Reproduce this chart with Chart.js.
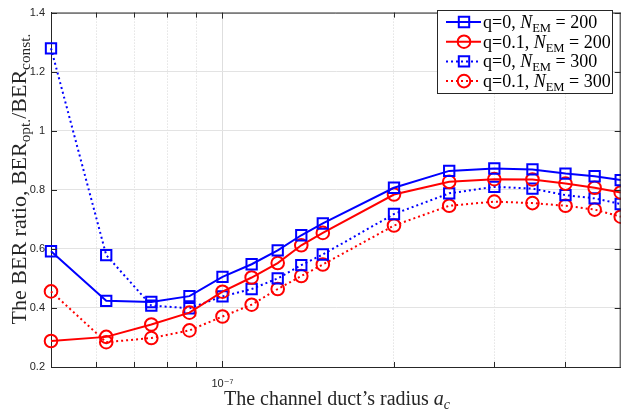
<!DOCTYPE html>
<html>
<head>
<meta charset="utf-8">
<script src="https://cdn.jsdelivr.net/npm/chart.js@4.4.0/dist/chart.umd.min.js"></script>
<style>
  html, body { margin: 0; padding: 0; background: #fff; overflow: hidden; }
  #wrap { width: 630px; height: 411px; }
</style>
</head>
<body>
<div id="wrap"><canvas id="berChart" width="630" height="411"></canvas></div>
<script>
// duct radius a_c (m)
const radius = [5e-8, 6.25e-8, 7.5e-8, 8.75e-8, 1e-7, 1.125e-7, 1.25e-7, 1.375e-7, 1.5e-7, 2e-7, 2.5e-7, 3e-7, 3.5e-7, 4e-7, 4.5e-7, 5e-7];
// BER ratio per curve
const q0_200  = [0.592, 0.424, 0.420, 0.440, 0.505, 0.548, 0.595, 0.646, 0.686, 0.807, 0.864, 0.872, 0.869, 0.855, 0.846, 0.833];
const q01_200 = [0.288, 0.302, 0.344, 0.384, 0.455, 0.503, 0.552, 0.612, 0.654, 0.784, 0.827, 0.836, 0.835, 0.821, 0.807, 0.791];
const q0_300  = [1.279, 0.579, 0.408, 0.399, 0.439, 0.464, 0.500, 0.545, 0.581, 0.718, 0.788, 0.810, 0.804, 0.782, 0.771, 0.752];
const q01_300 = [0.456, 0.284, 0.298, 0.324, 0.371, 0.411, 0.464, 0.508, 0.547, 0.679, 0.746, 0.760, 0.755, 0.746, 0.733, 0.709];
// axis ticks
const xTicks = [6e-8, 7e-8, 8e-8, 9e-8, 1e-7, 2e-7, 3e-7, 4e-7];
const yTicks = [0.2, 0.4, 0.6, 0.8, 1, 1.2, 1.4];
// legend entries: [plain, italic, subscript, tail]
const legendText = [
  ['q=0, ', 'N', 'EM', ' = 200'],
  ['q=0.1, ', 'N', 'EM', ' = 200'],
  ['q=0, ', 'N', 'EM', ' = 300'],
  ['q=0.1, ', 'N', 'EM', ' = 300']
];

const SERIF = '"Liberation Serif", "DejaVu Serif", serif';
const SANS = '"Liberation Sans", "DejaVu Sans", sans-serif';
const AX = '#262626';
const BLUE = '#0000ff';
const RED = '#ff0000';

const isMajor = v => Math.abs(v - 1e-7) < 1e-12;

function series(vals, color, style, dotted) {
  return {
    data: radius.map((r, i) => ({ x: r, y: vals[i] })),
    borderColor: color,
    backgroundColor: 'transparent',
    borderWidth: 2,
    borderDash: dotted ? [2, 3] : [],
    pointStyle: style,
    pointRadius: style === 'rect' ? 7.3 : 6.3,
    pointBorderWidth: 2,
    pointBorderColor: color,
    pointBackgroundColor: 'transparent',
    tension: 0,
    clip: false
  };
}

// text with italic / subscript pieces: [text, kind]  kind: r, i, s, si
function richWidth(ctx, parts, size) {
  let w = 0;
  parts.forEach(([t, k]) => {
    const fs = k[0] === 's' ? size * 0.7 : size;
    ctx.font = (k === 'i' || k === 'si' ? 'italic ' : '') + fs + 'px ' + SERIF;
    w += ctx.measureText(t).width;
  });
  return w;
}
function drawRich(ctx, parts, x, y, size) {
  let cx = x;
  parts.forEach(([t, k]) => {
    const fs = k[0] === 's' ? size * 0.7 : size;
    ctx.font = (k === 'i' || k === 'si' ? 'italic ' : '') + fs + 'px ' + SERIF;
    ctx.fillText(t, cx, k[0] === 's' ? y + size * 0.22 : y);
    cx += ctx.measureText(t).width;
  });
}

const decorations = {
  id: 'decorations',
  afterDraw(chart) {
    const { ctx, chartArea: a, scales } = chart;
    ctx.save();
    // box and inward ticks
    ctx.strokeStyle = AX;
    ctx.lineWidth = 1;
    ctx.beginPath();
    ctx.moveTo(a.left, a.top + 0.5);
    ctx.lineTo(a.right, a.top + 0.5);
    ctx.moveTo(a.right - 0.5, a.top);
    ctx.lineTo(a.right - 0.5, a.bottom);
    scales.x.ticks.forEach(t => {
      const px = Math.round(scales.x.getPixelForValue(t.value)) + 0.5;
      const len = isMajor(t.value) ? 6 : 5;
      ctx.moveTo(px, a.bottom); ctx.lineTo(px, a.bottom - len);
      ctx.moveTo(px, a.top); ctx.lineTo(px, a.top + len);
    });
    scales.y.ticks.forEach(t => {
      const py = Math.round(scales.y.getPixelForValue(t.value)) + 0.5;
      ctx.moveTo(a.left, py); ctx.lineTo(a.left + 6, py);
      ctx.moveTo(a.right, py); ctx.lineTo(a.right - 6, py);
    });
    ctx.stroke();

    // axis titles
    ctx.fillStyle = AX;
    ctx.textBaseline = 'alphabetic';
    const xt = [["The channel duct\u2019s radius ", 'r'], ['a', 'i'], ['c', 'si']];
    const xw = richWidth(ctx, xt, 20);
    drawRich(ctx, xt, 337 - xw / 2, 405, 20);

    const yt = [['The BER ratio, BER', 'r'], ['opt.', 's'], ['/BER', 'r'], ['const.', 's']];
    const yw = richWidth(ctx, yt, 22);
    ctx.save();
    ctx.translate(25.5, 179);
    ctx.rotate(-Math.PI / 2);
    drawRich(ctx, yt, -yw / 2, 0, 22);
    ctx.restore();

    // legend
    const lx = 437.5, ly = 10.5, lw = 175, lh = 83;
    ctx.fillStyle = '#fff';
    ctx.fillRect(lx, ly, lw, lh);
    ctx.strokeStyle = AX;
    ctx.lineWidth = 1;
    ctx.strokeRect(lx, ly, lw, lh);
    chart.data.datasets.forEach((ds, i) => {
      const ry = 22 + i * 19.7;
      ctx.strokeStyle = ds.borderColor;
      ctx.lineWidth = 2;
      ctx.setLineDash(ds.borderDash);
      ctx.beginPath();
      ctx.moveTo(446, ry); ctx.lineTo(481, ry);
      ctx.stroke();
      ctx.setLineDash([]);
      ctx.beginPath();
      if (ds.pointStyle === 'rect') {
        ctx.rect(464 - 5.2, ry - 5.2, 10.4, 10.4);
      } else {
        ctx.arc(464, ry, 6.3, 0, Math.PI * 2);
      }
      ctx.stroke();
      const p = legendText[i];
      ctx.fillStyle = '#000';
      drawRich(ctx, [[p[0], 'r'], [p[1], 'i'], [p[2], 's'], [p[3], 'r']], 483, ry + 6, 18);
    });
    ctx.restore();
  }
};

new Chart(document.getElementById('berChart'), {
  type: 'line',
  data: {
    datasets: [
      series(q0_200, BLUE, 'rect', false),
      series(q01_200, RED, 'circle', false),
      series(q0_300, BLUE, 'rect', true),
      series(q01_300, RED, 'circle', true)
    ]
  },
  options: {
    responsive: false,
    animation: false,
    layout: { padding: { top: 9, right: 8, left: 0, bottom: 0 } },
    plugins: { legend: { display: false }, tooltip: { enabled: false } },
    scales: {
      x: {
        type: 'logarithmic',
        min: 5e-8,
        max: 5e-7,
        afterBuildTicks: s => { s.ticks = xTicks.map(v => ({ value: v })); },
        afterFit: s => { s.height = 44; },
        ticks: {
          autoSkip: false,
          maxRotation: 0,
          padding: 10,
          color: AX,
          font: { family: SANS, size: 11 },
          callback: v => isMajor(v) ? '10\u207B\u2077' : ''
        },
        grid: {
          drawTicks: false,
          color: c => (c.tick && isMajor(c.tick.value)) ? '#dedede' : '#d6d6d6',
          lineWidth: 1
        },
        border: {
          color: AX,
          width: 1,
          dash: c => (c.tick && !isMajor(c.tick.value)) ? [1, 2] : []
        }
      },
      y: {
        min: 0.2,
        max: 1.4,
        afterBuildTicks: s => { s.ticks = yTicks.map(v => ({ value: v })); },
        afterFit: s => { s.width = 51; },
        ticks: {
          padding: 6,
          color: AX,
          font: { family: SANS, size: 11 },
          callback: v => String(+v.toFixed(1))
        },
        grid: { drawTicks: false, color: '#e3e3e3', lineWidth: 1 },
        border: { color: AX, width: 1 }
      }
    }
  },
  plugins: [decorations]
});
</script>
</body>
</html>
